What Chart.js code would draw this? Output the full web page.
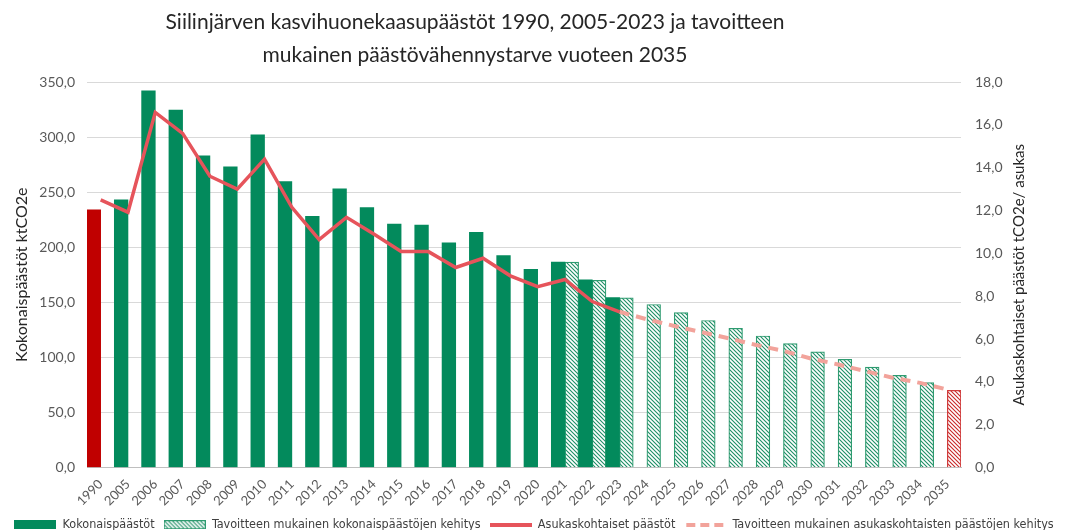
<!DOCTYPE html>
<html lang="fi">
<head>
<meta charset="utf-8">
<title>Siilinjärven kasvihuonekaasupäästöt</title>
<script src="https://cdn.jsdelivr.net/npm/chart.js@4.4.1/dist/chart.umd.min.js"></script>
<style>
  html, body { margin: 0; padding: 0; background: #fff; overflow: hidden; }
  #wrap { position: relative; width: 1068px; height: 541px; }
</style>
</head>
<body>
<div id="wrap"><canvas id="kaavio"></canvas></div>
<script>
// Vuodet (x-akseli)
const vuodet = ['1990', '2005', '2006', '2007', '2008', '2009', '2010', '2011', '2012', '2013',
  '2014', '2015', '2016', '2017', '2018', '2019', '2020', '2021', '2022', '2023', '2024', '2025',
  '2026', '2027', '2028', '2029', '2030', '2031', '2032', '2033', '2034', '2035'];

// Kokonaispäästöt ktCO2e (toteutunut)
const kokonaispaastot = [234, 243, 342, 324.5, 283, 273, 302, 259.5, 228, 253,
  236, 221, 220, 204, 213.6, 192.3, 180, 186.5, 170.3, 154.3,
  null, null, null, null, null, null, null, null, null, null, null, null];

// Tavoitteen mukainen kokonaispäästöjen kehitys ktCO2e
const tavoiteKokonais = [null, null, null, null, null, null, null, null, null, null,
  null, null, null, null, null, null, null, 186.5, 170, 154,
  148, 140.6, 133.5, 126.4, 119.4, 112.4, 105, 98.2, 91.1, 83.6, 77, 70];

// Asukaskohtaiset päästöt tCO2e/asukas
const asukaskohtaiset = [12.5, 11.92, 16.58, 15.6, 13.6, 13.0, 14.4, 12.15, 10.64, 11.68,
  10.9, 10.09, 10.08, 9.34, 9.77, 8.95, 8.44, 8.78, 7.75, 7.27,
  null, null, null, null, null, null, null, null, null, null, null, null];

// Tavoitteen mukainen asukaskohtaisten päästöjen kehitys
const tavoiteAsukas = [null, null, null, null, null, null, null, null, null, null,
  null, null, null, null, null, null, null, null, null, 7.27,
  6.92, 6.61, 6.32, 6.03, 5.72, 5.44, 5.09, 4.81, 4.5, 4.19, 3.95, 3.64];

const legendaTekstit = ['Kokonaispäästöt', 'Tavoitteen mukainen kokonaispäästöjen kehitys',
  'Asukaskohtaiset päästöt', 'Tavoitteen mukainen asukaskohtaisten päästöjen kehitys'];

const OTSIKKO = ['Siilinjärven kasvihuonekaasupäästöt 1990, 2005-2023 ja tavoitteen',
  'mukainen päästövähennystarve vuoteen 2035'];
const OIKEA_OTSIKKO = 'Asukaskohtaiset päästöt tCO2e/ asukas';

// Värit
const VIHREA = '#038a5c';
const PUNAINEN = '#c00000';
const VIIVA = '#e6545b';
const VIIVA_TAVOITE = '#f2a39b';
const HARMAA = '#595959';

// Vinoviivoitettu täyttö
function viivoitus(vari) {
  const c = document.createElement('canvas');
  c.width = 4; c.height = 4;
  const g = c.getContext('2d');
  g.fillStyle = '#fff';
  g.fillRect(0, 0, 4, 4);
  g.strokeStyle = vari;
  g.lineWidth = 1.1;
  g.beginPath();
  g.moveTo(-1, -1); g.lineTo(5, 5);
  g.moveTo(-1, 3); g.lineTo(1, 5);
  g.moveTo(3, -1); g.lineTo(5, 1);
  g.stroke();
  return g.createPattern(c, 'repeat');
}
const VIIVOITUS_VIHREA = viivoitus('#1e8f66');
const VIIVOITUS_PUNAINEN = viivoitus('#c82828');

// Legendan symbolit
const SYMBOLI_LEVEYS = 42;
function symboli(piirra, korkeus) {
  const c = document.createElement('canvas');
  c.width = SYMBOLI_LEVEYS; c.height = korkeus;
  piirra(c.getContext('2d'));
  return c;
}
const symbolit = [
  symboli(g => { g.fillStyle = VIHREA; g.fillRect(0, 0, SYMBOLI_LEVEYS, 9); }, 9),
  symboli(g => {
    g.fillStyle = VIIVOITUS_VIHREA; g.fillRect(0, 0, SYMBOLI_LEVEYS, 9);
    g.strokeStyle = '#2e9b70'; g.lineWidth = 1; g.strokeRect(0.5, 0.5, SYMBOLI_LEVEYS - 1, 8);
  }, 9),
  symboli(g => { g.fillStyle = VIIVA; g.fillRect(0, 0, SYMBOLI_LEVEYS, 4); }, 4),
  symboli(g => {
    g.fillStyle = VIIVA_TAVOITE;
    [0, 14, 28].forEach(x => g.fillRect(x + 2, 0, 9, 4));
  }, 4)
];

const muotoile = v => v.toFixed(1).replace('.', ',');

const otsikot = {
  id: 'otsikot',
  afterDraw(chart) {
    const { ctx, chartArea } = chart;
    ctx.save();
    ctx.fillStyle = '#262626';
    ctx.textAlign = 'center';
    ctx.textBaseline = 'middle';
    ctx.font = '21px Lato';
    OTSIKKO.forEach((rivi, i) => ctx.fillText(rivi, 475, 22 + i * 33));
    ctx.translate(1019, (chartArea.top + chartArea.bottom) / 2);
    ctx.rotate(-Math.PI / 2);
    ctx.font = '15px Lato';
    ctx.fillText(OIKEA_OTSIKKO, 0, 0);
    ctx.restore();
  }
};

new Chart(document.getElementById('kaavio'), {
  type: 'bar',
  data: {
    labels: vuodet,
    datasets: [
      {
        label: legendaTekstit[0],
        data: kokonaispaastot,
        backgroundColor: vuodet.map((v, i) => i === 0 ? PUNAINEN : VIHREA),
        borderWidth: 0,
        categoryPercentage: 1.0,
        barPercentage: 1.0,
        yAxisID: 'y',
        order: 1
      },
      {
        label: legendaTekstit[1],
        data: tavoiteKokonais,
        backgroundColor: vuodet.map((v, i) => i === vuodet.length - 1 ? VIIVOITUS_PUNAINEN : VIIVOITUS_VIHREA),
        borderColor: vuodet.map((v, i) => i === vuodet.length - 1 ? '#d03a3a' : '#2e9b70'),
        borderWidth: 1.2,
        categoryPercentage: 1.0,
        barPercentage: 1.0,
        yAxisID: 'y',
        order: 1
      },
      {
        type: 'line',
        label: legendaTekstit[2],
        data: asukaskohtaiset,
        borderColor: VIIVA,
        backgroundColor: VIIVA,
        borderWidth: 3.5,
        pointRadius: 0,
        tension: 0,
        yAxisID: 'y2',
        order: 0
      },
      {
        type: 'line',
        label: legendaTekstit[3],
        data: tavoiteAsukas,
        borderColor: VIIVA_TAVOITE,
        backgroundColor: VIIVA_TAVOITE,
        borderWidth: 4,
        borderDash: [10, 7],
        pointRadius: 0,
        tension: 0,
        yAxisID: 'y2',
        order: 0
      }
    ]
  },
  options: {
    responsive: true,
    maintainAspectRatio: false,
    animation: false,
    layout: { padding: { top: 82, left: 0, right: 0, bottom: 0 } },
    plugins: {
      title: { display: false },
      tooltip: { enabled: false },
      legend: {
        position: 'bottom',
        labels: {
          usePointStyle: true,
          pointStyleWidth: SYMBOLI_LEVEYS,
          boxHeight: 9,
          padding: 9,
          color: '#404040',
          font: { family: "'Liberation Sans Narrow', 'DejaVu Sans Condensed', sans-serif", size: 12.5 },
          generateLabels: () => legendaTekstit.map((teksti, i) => ({
            text: teksti,
            pointStyle: symbolit[i],
            fillStyle: 'transparent',
            strokeStyle: 'transparent',
            lineWidth: 0,
            hidden: false,
            datasetIndex: i,
            fontColor: '#404040'
          }))
        }
      }
    },
    scales: {
      x: {
        grid: { display: false, drawTicks: false },
        border: { color: '#bfbfbf' },
        ticks: {
          color: HARMAA,
          font: { family: 'Lato', size: 13 },
          minRotation: 45,
          maxRotation: 45,
          autoSkip: false,
          padding: 9
        },
        afterFit: s => { s.height = 42; }
      },
      y: {
        position: 'left',
        min: 0,
        max: 350,
        ticks: {
          stepSize: 50,
          color: HARMAA,
          font: { family: 'Lato', size: 14 },
          padding: 12,
          callback: v => muotoile(v)
        },
        grid: { color: '#d9d9d9', drawTicks: false },
        border: { display: false },
        title: {
          display: true,
          text: 'Kokonaispäästöt ktCO2e',
          color: '#262626',
          font: { family: 'Lato', size: 16 },
          padding: { top: 12, bottom: 0 }
        },
        afterFit: s => { s.width = 87; }
      },
      y2: {
        position: 'right',
        min: 0,
        max: 18,
        ticks: {
          stepSize: 2,
          color: HARMAA,
          font: { family: 'Lato', size: 14 },
          padding: 14,
          callback: v => muotoile(v)
        },
        grid: { display: false, drawTicks: false },
        border: { display: false },
        afterFit: s => { s.width = 107; }
      }
    }
  },
  plugins: [otsikot]
});
</script>
</body>
</html>
